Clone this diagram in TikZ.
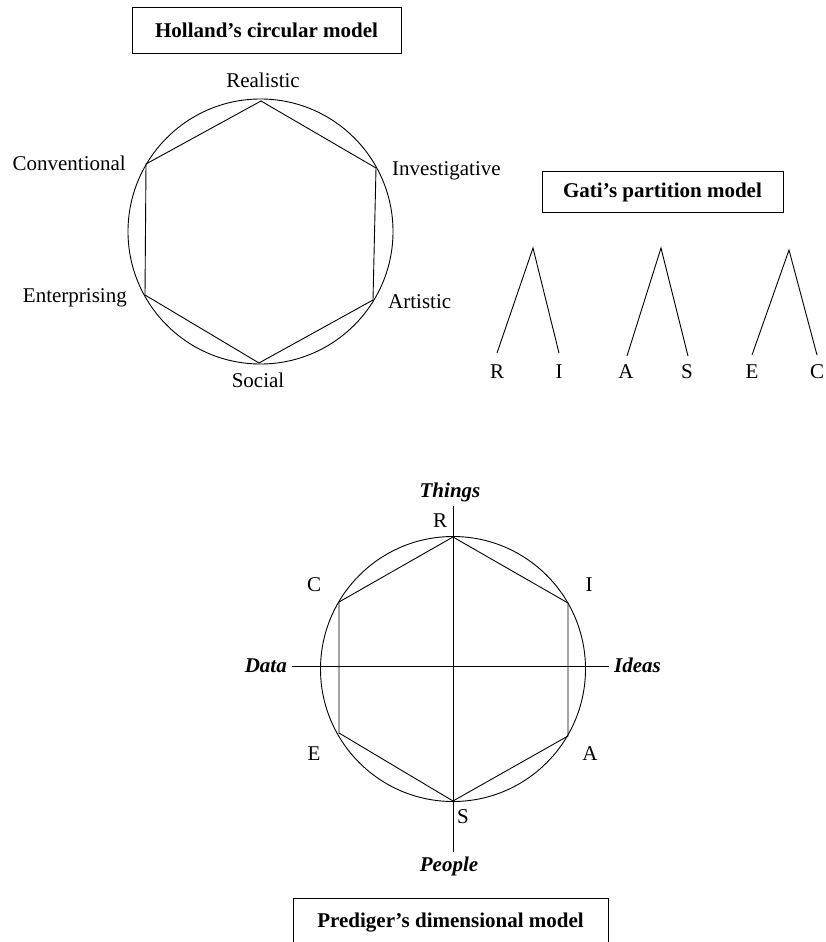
\documentclass[tikz,border=0pt]{standalone}
\usepackage{fontspec}
\setmainfont{Liberation Serif}
\begin{document}
\begin{tikzpicture}[x=1pt,y=-1pt,
  lbl/.style={inner sep=0pt,font=\fontsize{21}{25}\selectfont},
  ttl/.style={inner sep=0pt,font=\fontsize{21}{25}\selectfont\bfseries},
  axl/.style={inner sep=0pt,font=\fontsize{21}{25}\selectfont\bfseries\itshape},
  tbox/.style={draw,line width=0.9pt,inner sep=0pt},
  ln/.style={line width=0.9pt}]
\useasboundingbox (0,0) rectangle (825,942);

% ---------- Holland ----------
\node[tbox,minimum width=269pt,minimum height=46pt] (hbox) at (266.5,30) {};
\node[ttl,anchor=base] (htitle) at (266.5,38) {Holland’s circular model};
\node[ln,draw,circle,minimum size=265pt,inner sep=0pt] (hcirc) at (260.5,231.5) {};
\coordinate (hR) at (261,101);
\coordinate (hI) at (376,168);
\coordinate (hA) at (373,300);
\coordinate (hS) at (259,363);
\coordinate (hE) at (145,295);
\coordinate (hC) at (146,164);
\draw[ln,line join=miter] (hR)--(hI)--(hA)--(hS)--(hE)--(hC)--cycle;
\node[lbl,anchor=base] (lR) at (263,88) {Realistic};
\node[lbl,anchor=base west] (lI) at (392,175) {Investigative};
\node[lbl,anchor=base west] (lA) at (388,308) {Artistic};
\node[lbl,anchor=base] (lS) at (258,387) {Social};
\node[lbl,anchor=base east] (lE) at (127,302) {Enterprising};
\node[lbl,anchor=base east] (lC) at (126,170) {Conventional};

% ---------- Gati ----------
\node[tbox,minimum width=241pt,minimum height=41pt] (gbox) at (662.5,191.5) {};
\node[ttl,anchor=base] (gtitle) at (662.5,197) {Gati’s partition model};
\coordinate (g1) at (533,248);
\coordinate (g1l) at (497,353);
\coordinate (g1r) at (559,353);
\coordinate (g2) at (661,248);
\coordinate (g2l) at (627,356);
\coordinate (g2r) at (688,356);
\coordinate (g3) at (789,250);
\coordinate (g3l) at (752,355);
\coordinate (g3r) at (817,355);
\draw[ln] (g1l)--(g1)--(g1r);
\draw[ln] (g2l)--(g2)--(g2r);
\draw[ln] (g3l)--(g3)--(g3r);
\node[lbl,anchor=base] (gR) at (497,378) {R};
\node[lbl,anchor=base] (gI) at (559,378) {I};
\node[lbl,anchor=base] (gA) at (626,378) {A};
\node[lbl,anchor=base] (gS) at (687,378) {S};
\node[lbl,anchor=base] (gE) at (752,378) {E};
\node[lbl,anchor=base] (gC) at (817,378) {C};

% ---------- Prediger ----------
\node[ln,draw,circle,minimum size=265pt,inner sep=0pt] (pcirc) at (453,669) {};
\coordinate (pR) at (453,537);
\coordinate (pI) at (568,603);
\coordinate (pA) at (568,736);
\coordinate (pS) at (453,801);
\coordinate (pE) at (339,733);
\coordinate (pC) at (339,602);
\draw[ln,line join=miter] (pR)--(pI)--(pA)--(pS)--(pE)--(pC)--cycle;
\coordinate (vtop) at (453,506);
\coordinate (vbot) at (453,852);
\coordinate (hleft) at (292,666);
\coordinate (hright) at (609,666);
\draw[ln] (vtop)--(vbot);
\draw[ln] (hleft)--(hright);
\node[axl,anchor=base] (things) at (450,497) {Things};
\node[axl,anchor=base] (people) at (449,871) {People};
\node[axl,anchor=base east] (data) at (287,672) {Data};
\node[axl,anchor=base west] (ideas) at (614,672) {Ideas};
\node[lbl,anchor=base] (qR) at (440,527) {R};
\node[lbl,anchor=base] (qI) at (589,591) {I};
\node[lbl,anchor=base] (qA) at (590,760) {A};
\node[lbl,anchor=base] (qS) at (463,823) {S};
\node[lbl,anchor=base] (qE) at (314,760) {E};
\node[lbl,anchor=base] (qC) at (314,591) {C};
\coordinate (pb1) at (293,942);
\coordinate (pb2) at (293,898);
\coordinate (pb3) at (608,898);
\coordinate (pb4) at (608,942);
\draw[ln] (pb1)--(pb2)--(pb3)--(pb4);
\node[ttl,anchor=base] (ptitle) at (450.5,927) {Prediger’s dimensional model};
\end{tikzpicture}
\end{document}
